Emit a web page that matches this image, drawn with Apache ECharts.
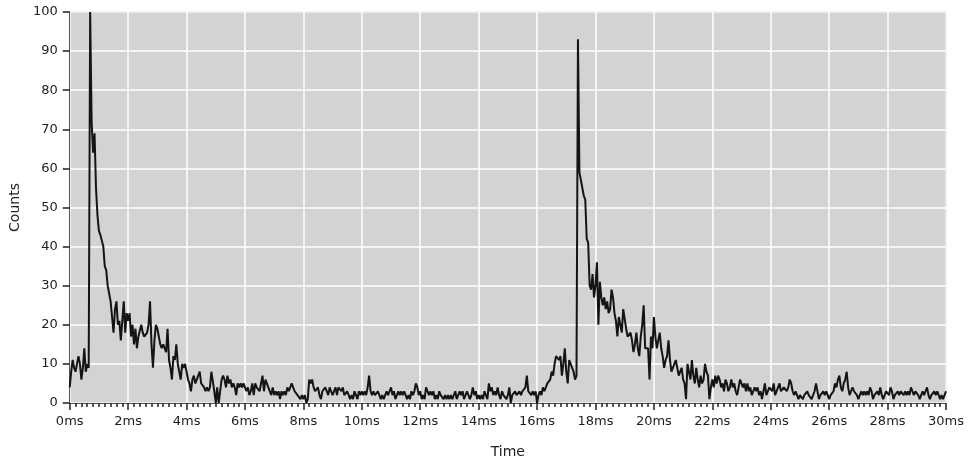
<!DOCTYPE html>
<html>
<head>
<meta charset="utf-8">
<script src="https://cdn.jsdelivr.net/npm/echarts@6/dist/echarts.min.js"></script>
<style>
  html, body { margin: 0; padding: 0; background: #ffffff; }
  #chart { width: 970px; height: 464px; }
</style>
</head>
<body>
<div id="chart"></div>
<script>
// Histogram of photon counts per 0.05 ms bin, 0–30 ms
const binWidth = 0.05;
const xTickValues = [0, 2, 4, 6, 8, 10, 12, 14, 16, 18, 20, 22, 24, 26, 28, 30];
const yTickValues = [0, 10, 20, 30, 40, 50, 60, 70, 80, 90, 100];

const counts00to05 = [4, 8, 11, 9, 8, 10, 12, 10, 6, 9, 14, 8, 10, 9, 100, 72, 64, 69, 55, 48,
  44, 43, 43, 40, 35, 34, 30, 28, 26, 22, 18, 24, 26, 20, 21, 16, 21, 26, 18, 23,
  21, 23, 17, 20, 15, 19, 14, 17, 17, 20, 18, 17, 17, 18, 20, 26, 15, 9, 16, 20,
  19, 17, 15, 14, 15, 15, 13, 19, 11, 9, 6, 12, 11, 15, 10, 8, 6, 10, 9, 10,
  10, 6, 5, 3, 6, 7, 5, 6, 7, 8, 5, 5, 4, 3, 4, 3, 4, 8, 8, 3];
const counts05to10 = [0, 4, 0, 0, 6, 7, 6, 4, 7, 5, 6, 4, 5, 4, 2, 5, 4, 5, 4, 5,
  4, 3, 4, 2, 3, 5, 2, 5, 4, 4, 3, 5, 7, 3, 6, 5, 4, 3, 2, 4,
  2, 3, 2, 3, 1, 3, 2, 3, 2, 4, 3, 4, 5, 4, 3, 3, 2, 2, 1, 2,
  1, 2, 0, 1, 6, 5, 6, 4, 3, 3, 4, 2, 1, 3, 3, 4, 3, 2, 4, 3,
  2, 3, 4, 2, 4, 4, 3, 4, 2, 2, 3, 2, 1, 2, 1, 3, 2, 1, 3, 2];
const counts10to15 = [3, 2, 3, 2, 4, 7, 3, 2, 3, 2, 2, 3, 2, 1, 2, 1, 2, 3, 2, 3,
  4, 2, 3, 1, 2, 3, 2, 3, 2, 3, 2, 1, 2, 1, 3, 2, 3, 5, 4, 2,
  3, 1, 2, 1, 4, 3, 2, 3, 2, 3, 1, 2, 1, 3, 2, 2, 1, 2, 1, 2,
  1, 2, 1, 2, 3, 1, 2, 3, 2, 3, 1, 2, 3, 2, 1, 2, 4, 2, 3, 1,
  2, 1, 2, 1, 3, 2, 1, 5, 3, 4, 2, 3, 2, 4, 2, 1, 3, 2, 2, 1];
const counts15to20 = [2, 4, 0, 2, 2, 3, 2, 2, 3, 2, 3, 3, 4, 7, 3, 3, 2, 3, 2, 3,
  0, 2, 3, 2, 4, 3, 4, 5, 5, 6, 8, 7, 10, 12, 12, 11, 12, 7, 10, 14,
  8, 5, 11, 10, 9, 8, 6, 7, 93, 59, 57, 55, 53, 52, 42, 41, 30, 29, 33, 27,
  30, 36, 20, 31, 27, 25, 27, 24, 26, 23, 24, 29, 27, 23, 21, 17, 22, 22, 18, 24,
  24, 19, 17, 17, 18, 16, 13, 15, 18, 14, 12, 17, 20, 25, 14, 14, 14, 6, 17, 14];
const counts20to25 = [22, 17, 14, 16, 18, 14, 12, 9, 11, 12, 16, 11, 8, 9, 10, 11, 9, 7, 8, 9,
  6, 5, 1, 10, 8, 6, 11, 7, 5, 9, 6, 4, 7, 5, 6, 10, 8, 7, 1, 4,
  6, 4, 7, 5, 7, 6, 4, 5, 3, 6, 5, 3, 4, 6, 4, 5, 3, 2, 4, 6,
  6, 4, 5, 3, 5, 3, 4, 2, 3, 4, 3, 4, 2, 3, 1, 3, 5, 2, 3, 4,
  4, 3, 5, 2, 3, 4, 5, 3, 3, 4, 4, 3, 4, 6, 5, 3, 2, 3, 2, 1];
const counts25to30 = [2, 2, 1, 2, 2, 3, 2, 2, 1, 2, 3, 5, 3, 1, 2, 2, 3, 2, 3, 2,
  1, 2, 2, 3, 5, 4, 6, 7, 4, 3, 5, 6, 8, 4, 2, 3, 4, 3, 3, 2,
  1, 2, 3, 2, 3, 2, 3, 2, 4, 3, 1, 2, 2, 3, 2, 4, 2, 1, 2, 3,
  3, 2, 4, 3, 1, 2, 2, 3, 2, 3, 3, 2, 3, 2, 3, 2, 4, 3, 2, 3,
  3, 2, 1, 2, 3, 2, 3, 4, 2, 1, 2, 2, 3, 2, 3, 2, 1, 2, 1, 1,
  3];

const counts = [].concat(counts00to05, counts05to10, counts10to15,
                         counts15to20, counts20to25, counts25to30);
const seriesData = counts.map((v, i) => [+(i * binWidth).toFixed(2), v]);

const labelFont = "'DejaVu Sans', Verdana, sans-serif";
const chart = echarts.init(document.getElementById('chart'), null, { renderer: 'canvas' });

chart.setOption({
  animation: false,
  backgroundColor: '#ffffff',
  grid: {
    left: 65, right: 24, top: 12, bottom: 59,
    show: true,
    backgroundColor: '#d3d3d3',
    borderColor: '#8a8a8a',
    borderWidth: 1
  },
  xAxis: {
    type: 'value',
    min: xTickValues[0],
    max: xTickValues[xTickValues.length - 1],
    interval: xTickValues[1] - xTickValues[0],
    name: 'Time',
    nameLocation: 'middle',
    nameGap: 42,
    nameTextStyle: { fontFamily: labelFont, fontSize: 14, color: '#222' },
    axisLine: { show: true, lineStyle: { color: '#555', width: 1 } },
    axisTick: { show: true, length: 7, lineStyle: { color: '#222', width: 1.5 } },
    minorTick: { show: true, splitNumber: 10, length: 4, lineStyle: { color: '#222', width: 1.5 } },
    axisLabel: {
      margin: 12, fontFamily: labelFont, fontSize: 13, color: '#1e1e1e',
      formatter: v => v + 'ms'
    },
    splitLine: { show: true, lineStyle: { color: '#ffffff', width: 1.5 } }
  },
  yAxis: {
    type: 'value',
    min: yTickValues[0],
    max: yTickValues[yTickValues.length - 1],
    interval: yTickValues[1] - yTickValues[0],
    name: 'Counts',
    nameLocation: 'middle',
    nameGap: 44,
    nameTextStyle: { fontFamily: labelFont, fontSize: 14, color: '#222' },
    axisLine: { show: true, lineStyle: { color: '#555', width: 1 } },
    axisTick: { show: true, length: 7, lineStyle: { color: '#222', width: 1.5 } },
    axisLabel: { margin: 12, fontFamily: labelFont, fontSize: 13, color: '#1e1e1e' },
    splitLine: { show: true, lineStyle: { color: '#ffffff', width: 1.5 } }
  },
  series: [{
    type: 'line',
    data: seriesData,
    showSymbol: false,
    symbol: 'none',
    lineStyle: { color: '#141414', width: 2 },
    z: 3
  }]
});
</script>
</body>
</html>
